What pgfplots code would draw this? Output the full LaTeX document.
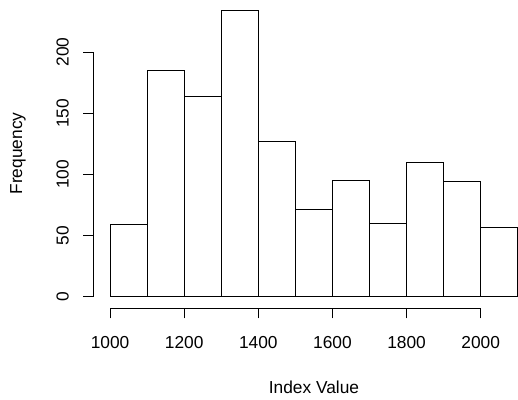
\documentclass[border=0pt]{standalone}
\usepackage{pgfplots}
\pgfplotsset{compat=1.18}
\usepackage{fontspec}
\setmainfont{Liberation Sans}
\begin{document}
\begin{tikzpicture}
\path[use as bounding box] (0,0) rectangle (388.5pt,300pt);
\begin{axis}[
  at={(70.3pt,68.85pt)}, anchor=south west,
  scale only axis, width=330.3pt, height=231.9pt,
  xmin=956, xmax=2144, ymin=-9.36, ymax=243.4,
  axis lines*=left, axis line style={draw=none},
  clip=false,
  xtick={1000,1200,1400,1600,1800,2000},
  ytick={0,50,100,150,200},
  tick align=outside, major tick length=7.7pt,
  tick style={black, line width=0.75pt},
  /pgf/number format/1000 sep={},
  /pgf/number format/assume math mode=true,
  every tick label/.append style={font=\fontsize{13}{15}\selectfont},
  xticklabel style={anchor=center, yshift=-18.3pt},
  yticklabel style={anchor=center, xshift=-15.6pt, rotate=90},
  xlabel={Index Value},
  ylabel={Frequency},
  label style={font=\fontsize{13}{15}\selectfont},
  xlabel style={at={(axis description cs:0.5,-0.2549)}, anchor=center},
  ylabel style={at={(axis description cs:-0.1719,0.5)}, anchor=center, rotate=0},
]
\addplot[ybar interval, fill=white, draw=black, line width=0.75pt] coordinates {
  (1000,59) (1100,185) (1200,164) (1300,234) (1400,127) (1500,71)
  (1600,95) (1700,60) (1800,110) (1900,94) (2000,57) (2100,0)
};
\draw[line width=0.75pt] (axis cs:1000,-9.36) -- (axis cs:2000,-9.36);
\draw[line width=0.75pt] (axis cs:956,0) -- (axis cs:956,200);
\end{axis}
\end{tikzpicture}
\end{document}
